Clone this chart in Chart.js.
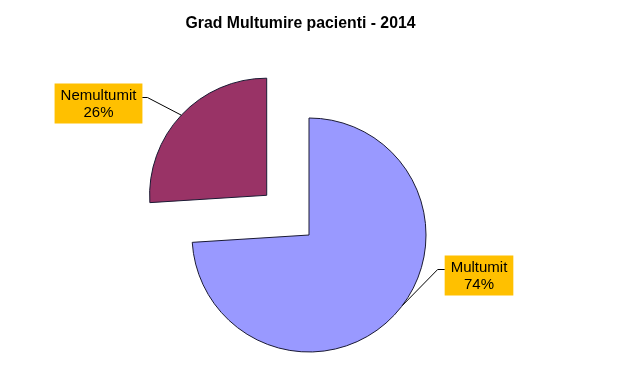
<!DOCTYPE html>
<html>
<head>
<meta charset="utf-8">
<script src="https://cdn.jsdelivr.net/npm/chart.js@4/dist/chart.umd.min.js"></script>
<style>
  html, body { margin: 0; padding: 0; background: #ffffff; }
  #wrap { width: 640px; height: 381px; }
</style>
</head>
<body>
<div id="wrap"><canvas id="c" width="640" height="381"></canvas></div>
<script>
// ---- data ----
const chartTitle = 'Grad Multumire pacienti - 2014';
const categories = ['Multumit', 'Nemultumit'];
const values = [74, 26];
const percentLabels = ['74%', '26%'];

// ---- styling ----
const sliceColors = ['#9999FF', '#993366'];
const explode = [0, 232];           // Chart.js moves a slice by offset/4
const leaderFrac = [0.477, 0.5];    // where along each slice's arc the leader line touches
const labelBoxes = [                // label box centres (layout only)
  { cx: 479, cy: 275.5, side: 'left' },
  { cx: 98.5, cy: 103.5, side: 'right' }
];
const FONT = '"Liberation Sans", Arial, sans-serif';

const labelPlugin = {
  id: 'pieLabels',
  afterDraw(chart) {
    const ctx = chart.ctx;
    // title
    ctx.save();
    ctx.fillStyle = '#000';
    ctx.font = 'bold 15.8px ' + FONT;
    ctx.textAlign = 'center';
    ctx.textBaseline = 'alphabetic';
    ctx.fillText(chartTitle, 300.5, 28);
    ctx.restore();

    const meta = chart.getDatasetMeta(0);
    meta.data.forEach((arc, i) => {
      const p = arc.getProps(['x', 'y', 'startAngle', 'endAngle', 'outerRadius'], true);
      const mid = (p.startAngle + p.endAngle) / 2;
      const off = (explode[i] || 0) / 4;
      const cx = p.x + Math.cos(mid) * off;
      const cy = p.y + Math.sin(mid) * off;
      const la = p.startAngle + (p.endAngle - p.startAngle) * leaderFrac[i];
      const ax = cx + Math.cos(la) * p.outerRadius;
      const ay = cy + Math.sin(la) * p.outerRadius;

      const lb = labelBoxes[i];
      ctx.save();
      ctx.font = '15px ' + FONT;
      const l1 = categories[i], l2 = percentLabels[i];
      const w = Math.max(ctx.measureText(l1).width, ctx.measureText(l2).width) + 12;
      const h = 40;
      const bx = lb.cx - w / 2, by = lb.cy - h / 2;
      ctx.fillStyle = '#FFC000';
      ctx.fillRect(bx, by, w, h);
      ctx.fillStyle = '#000';
      ctx.textAlign = 'center';
      ctx.textBaseline = 'middle';
      ctx.fillText(l1, lb.cx, lb.cy - 8);
      ctx.fillText(l2, lb.cx, lb.cy + 9);

      // leader line
      const ex = lb.side === 'left' ? bx : bx + w;
      const stub = lb.side === 'left' ? ex - 7 : ex + 5;
      ctx.strokeStyle = '#000';
      ctx.lineWidth = 1;
      ctx.beginPath();
      ctx.moveTo(ex, lb.cy - 6);
      ctx.lineTo(stub, lb.cy - 6);
      ctx.lineTo(ax, ay);
      ctx.stroke();
      ctx.restore();
    });
  }
};

new Chart(document.getElementById('c'), {
  type: 'pie',
  data: {
    labels: categories,
    datasets: [{
      data: values,
      backgroundColor: sliceColors,
      borderColor: '#1a1a33',
      borderWidth: 1,
      offset: explode,
      hoverOffset: 0
    }]
  },
  options: {
    responsive: false,
    animation: false,
    radius: 117,
    layout: { padding: { left: 0, right: 22, top: 118, bottom: 29 } },
    plugins: {
      legend: { display: false },
      title: { display: false },
      tooltip: { enabled: false }
    },
    events: []
  },
  plugins: [labelPlugin]
});
</script>
</body>
</html>
